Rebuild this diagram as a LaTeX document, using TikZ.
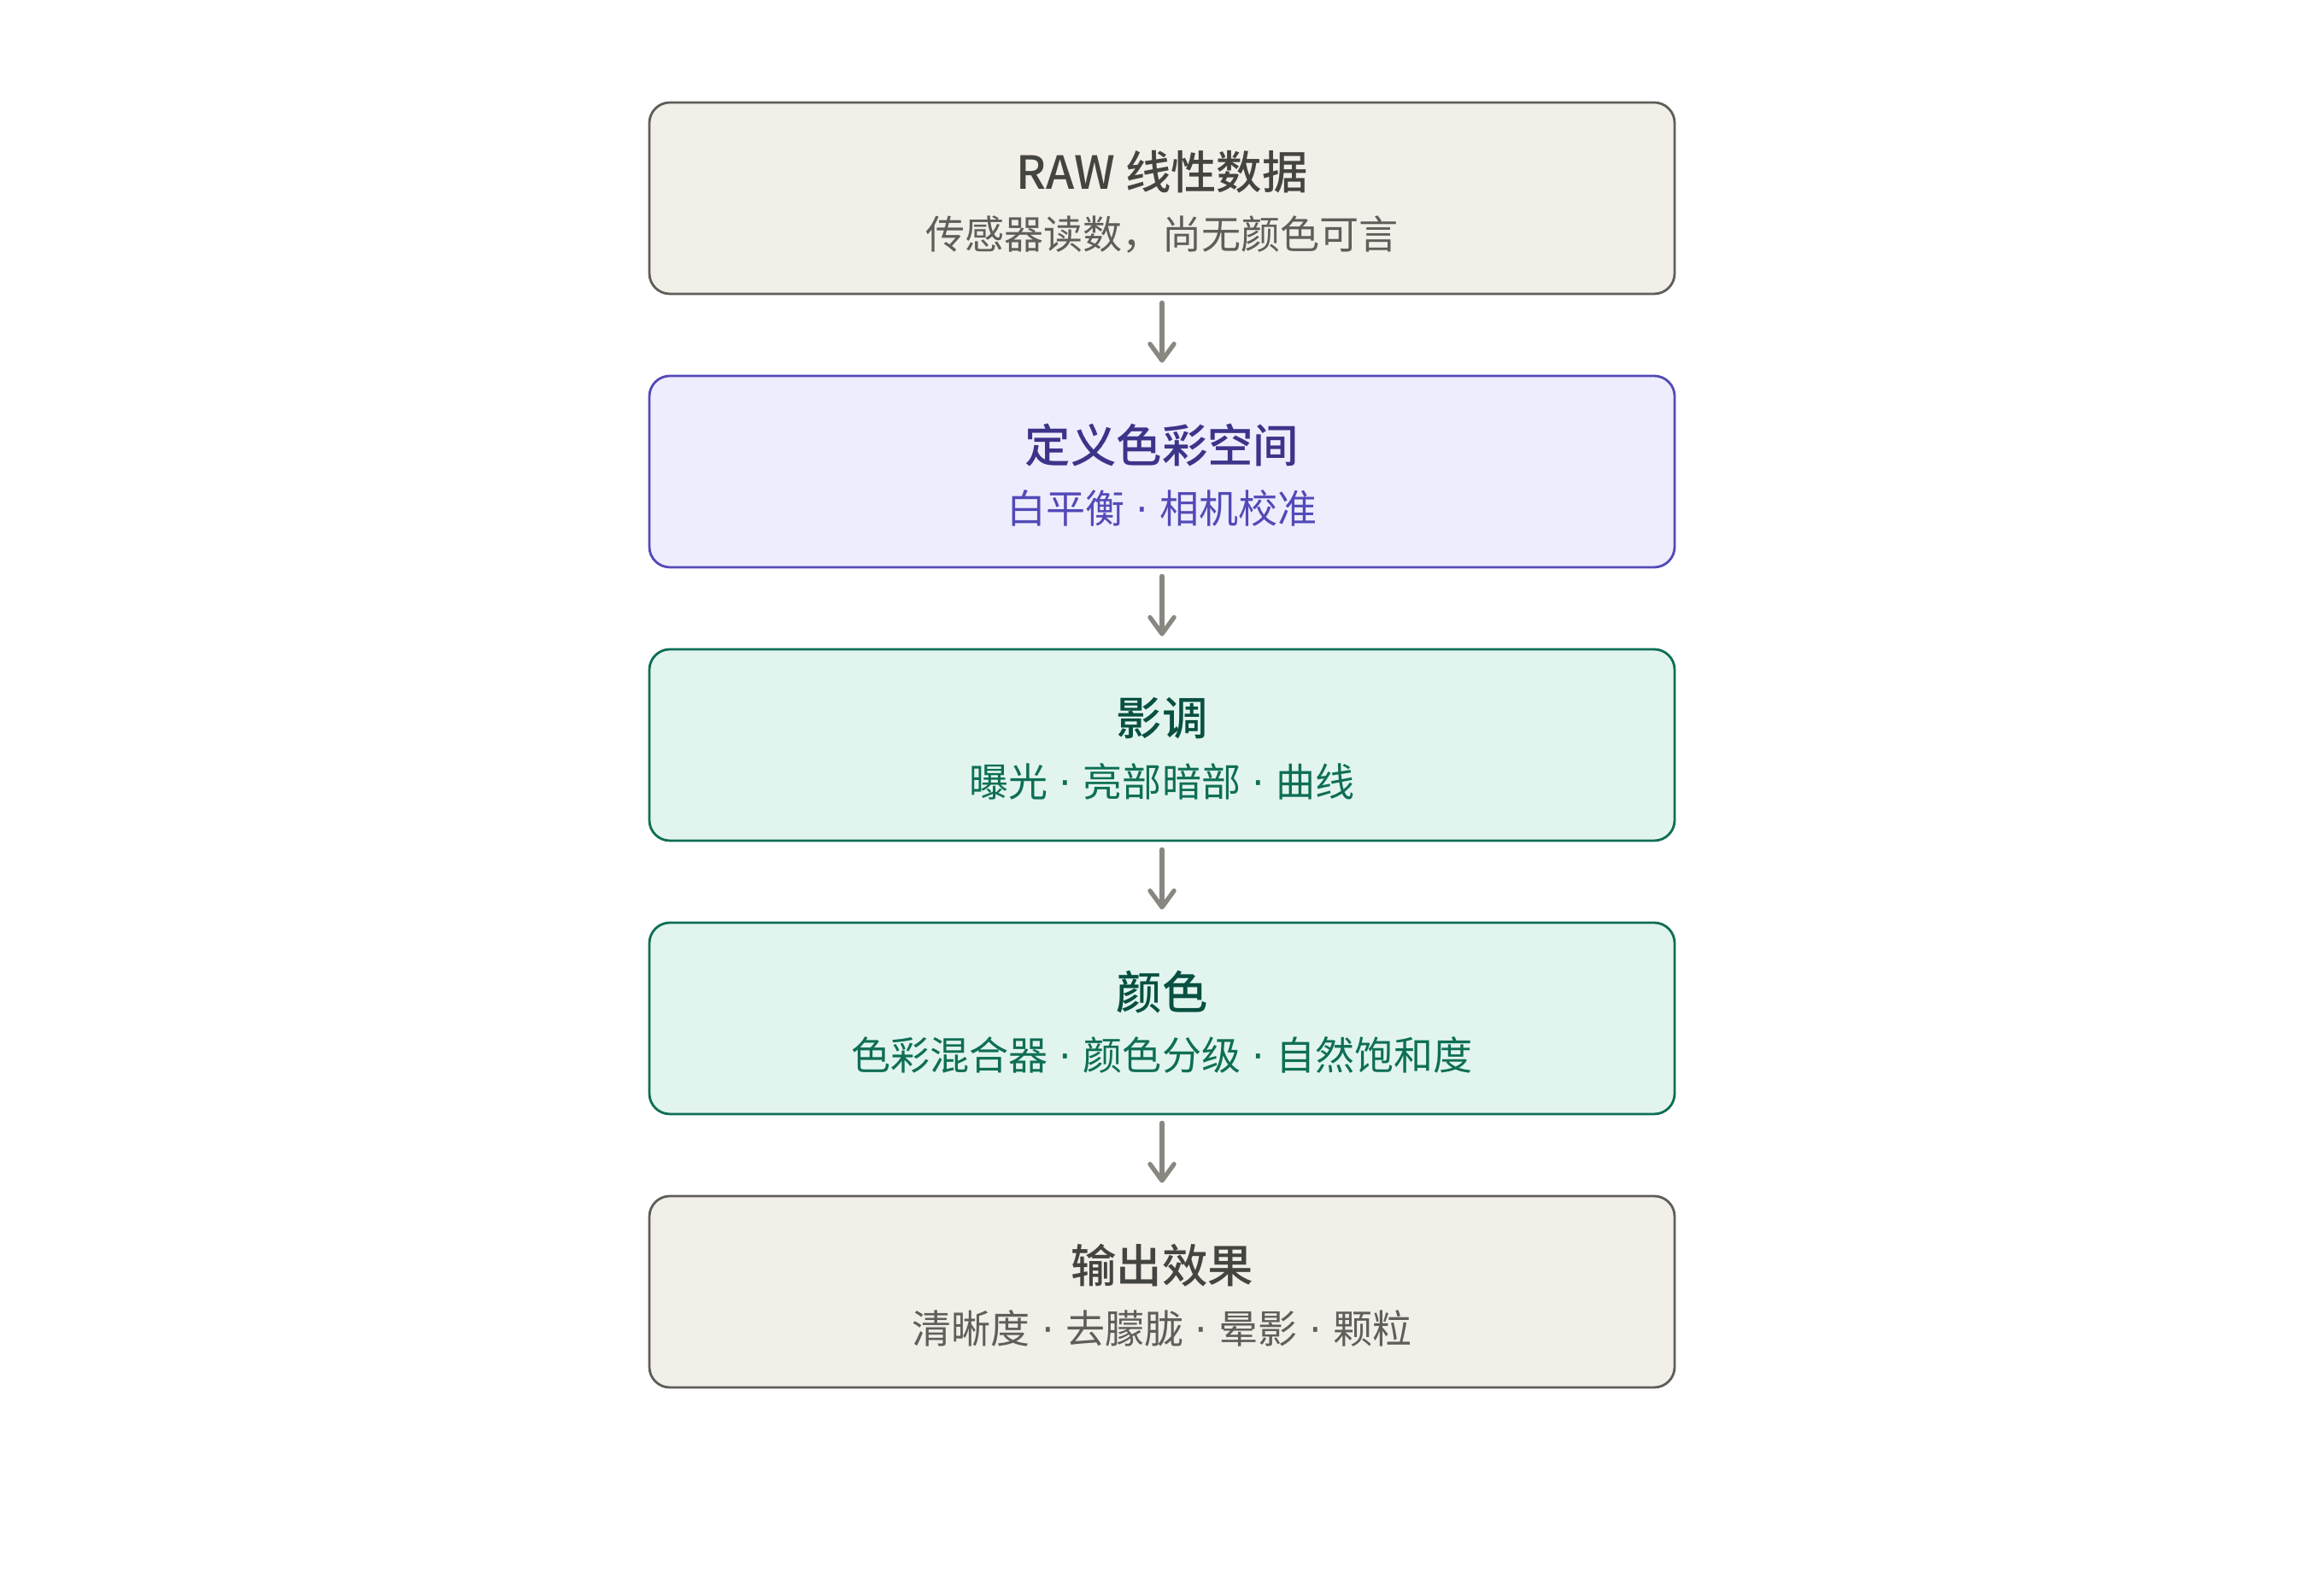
\documentclass[tikz,border=0pt]{standalone}
\usepackage{fontspec}
\setmainfont{Noto Sans CJK SC}[BoldFont={Noto Sans CJK SC Medium}]
\newfontfamily\dotfont{DejaVu Sans}
\usetikzlibrary{arrows.meta}
\definecolor{stonefill}{HTML}{F1EFE8}
\definecolor{stoneline}{HTML}{5F5E5A}
\definecolor{stonedark}{HTML}{444441}
\definecolor{violetfill}{HTML}{EEEDFE}
\definecolor{violetline}{HTML}{534AB7}
\definecolor{violetdark}{HTML}{3C3489}
\definecolor{tealfill}{HTML}{E1F5EE}
\definecolor{tealline}{HTML}{0F6E56}
\definecolor{tealdark}{HTML}{085041}
\definecolor{arrowgray}{HTML}{888780}
\newcommand{\sep}{\hspace{0.29em}{\dotfont ·}\hspace{0.29em}}

\begin{document}
\begin{tikzpicture}[
    stage/.style={draw, rounded corners=0.24cm, line width=0.8pt,
      minimum width=12cm, minimum height=2.24cm, inner sep=0pt},
    headline/.style={inner sep=0pt, font=\fontsize{15.2}{18}\selectfont\bfseries},
    subline/.style={inner sep=0pt, font=\fontsize{13.1}{16}\selectfont},
    flow/.style={draw=arrowgray, line width=1.5pt, line cap=round,
      -{Straight Barb[length=5.5pt,width=8pt,line width=1.5pt,round]},
      shorten <=0.09cm, shorten >=0.14cm}
  ]
    \useasboundingbox (0,0) rectangle (27.2,18.4);

    \node[stage, draw=stoneline, fill=stonefill] (raw) at (13.6,16.08) {};
    \node[headline, text=stonedark] (rawtitle) at ([yshift=0.31cm]raw.center) {RAW 线性数据};
    \node[subline, text=stoneline] (rawsub) at ([yshift=-0.43cm]raw.center) {传感器读数，尚无颜色可言};

    \node[stage, draw=violetline, fill=violetfill] (space) at (13.6,12.88) {};
    \node[headline, text=violetdark] (spacetitle) at ([yshift=0.31cm]space.center) {定义色彩空间};
    \node[subline, text=violetline] (spacesub) at ([yshift=-0.43cm]space.center) {白平衡\sep 相机校准};

    \node[stage, draw=tealline, fill=tealfill] (tone) at (13.6,9.68) {};
    \node[headline, text=tealdark] (tonetitle) at ([yshift=0.31cm]tone.center) {影调};
    \node[subline, text=tealline] (tonesub) at ([yshift=-0.43cm]tone.center) {曝光\sep 亮部暗部\sep 曲线};

    \node[stage, draw=tealline, fill=tealfill] (color) at (13.6,6.48) {};
    \node[headline, text=tealdark] (colortitle) at ([yshift=0.31cm]color.center) {颜色};
    \node[subline, text=tealline] (colorsub) at ([yshift=-0.43cm]color.center) {色彩混合器\sep 颜色分级\sep 自然饱和度};

    \node[stage, draw=stoneline, fill=stonefill] (out) at (13.6,3.28) {};
    \node[headline, text=stonedark] (outtitle) at ([yshift=0.31cm]out.center) {输出效果};
    \node[subline, text=stoneline] (outsub) at ([yshift=-0.43cm]out.center) {清晰度\sep 去朦胧\sep 晕影\sep 颗粒};

    \draw[flow] (raw) -- (space);
    \draw[flow] (space) -- (tone);
    \draw[flow] (tone) -- (color);
    \draw[flow] (color) -- (out);
  \end{tikzpicture}
\end{document}
